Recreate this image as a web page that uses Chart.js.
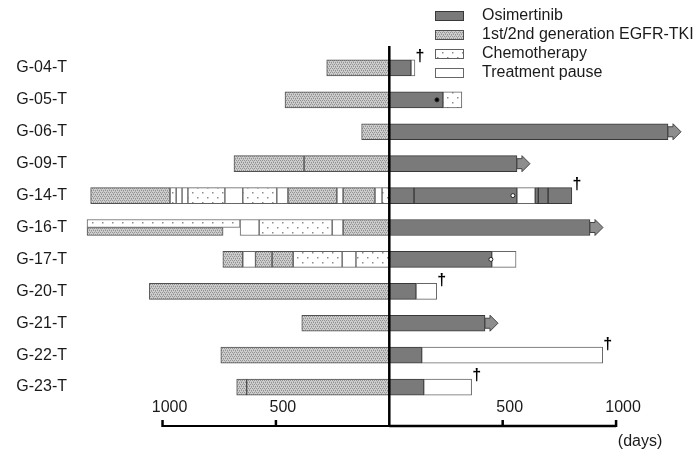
<!DOCTYPE html>
<html>
<head>
<meta charset="utf-8">
<title>Swimmer plot</title>
<script src="https://cdn.jsdelivr.net/npm/chart.js@4.4.1/dist/chart.umd.min.js"></script>
<style>
  html, body { margin: 0; padding: 0; background: #fff; }
  #wrap { width: 697px; height: 453px; }
</style>
</head>
<body>
<div id="wrap"><canvas id="swimmerChart" width="697" height="453"></canvas></div>
<script>
const patients = ["G-04-T", "G-05-T", "G-06-T", "G-09-T", "G-14-T", "G-16-T",
  "G-17-T", "G-20-T", "G-21-T", "G-22-T", "G-23-T"];

// [patient, start day, end day] - negative days are before osimertinib
const osimertinib = [
  ["G-04-T", 0, 96], ["G-05-T", 0, 237], ["G-06-T", 0, 1229], ["G-09-T", 0, 563],
  ["G-14-T", 0, 109], ["G-14-T", 109, 563], ["G-14-T", 643, 657], ["G-14-T", 657, 700],
  ["G-14-T", 700, 805], ["G-16-T", 0, 885], ["G-17-T", 0, 452], ["G-20-T", 0, 118],
  ["G-21-T", 0, 422], ["G-22-T", 0, 143], ["G-23-T", 0, 152]
];
const tki = [
  ["G-04-T", -276, 0], ["G-05-T", -460, 0], ["G-06-T", -122, 0],
  ["G-09-T", -685, -376], ["G-09-T", -376, 0],
  ["G-14-T", -1317, -967], ["G-14-T", -447, -231], ["G-14-T", -204, -63],
  ["G-16-T", -204, 0],
  ["G-17-T", -734, -646], ["G-17-T", -590, -517], ["G-17-T", -517, -424],
  ["G-20-T", -1058, 0], ["G-21-T", -386, 0], ["G-22-T", -743, 0],
  ["G-23-T", -673, -629], ["G-23-T", -629, 0]
];
const chemo = [
  ["G-05-T", 237, 320],
  ["G-14-T", -967, -940], ["G-14-T", -888, -725], ["G-14-T", -646, -496], ["G-14-T", -32, 0],
  ["G-16-T", -574, -252],
  ["G-17-T", -424, -208], ["G-17-T", -147, 0]
];
const pause = [
  ["G-04-T", 96, 113],
  ["G-14-T", -940, -914], ["G-14-T", -914, -888], ["G-14-T", -725, -646], ["G-14-T", -496, -447],
  ["G-14-T", -231, -204], ["G-14-T", -63, -32], ["G-14-T", 563, 643],
  ["G-16-T", -658, -574], ["G-16-T", -252, -204],
  ["G-17-T", -646, -590], ["G-17-T", -208, -147], ["G-17-T", 452, 559],
  ["G-20-T", 118, 209], ["G-22-T", 143, 941], ["G-23-T", 152, 363]
];
// G-16-T: chemo and TKI given together (upper / lower half of the bar)
const comboChemo = [["G-16-T", -1333, -658]];
const comboTki = [["G-16-T", -1333, -733]];

const ongoing = [["G-06-T", 1229], ["G-09-T", 563], ["G-16-T", 885], ["G-21-T", 422]];
const deceased = [["G-04-T", 113], ["G-14-T", 805], ["G-20-T", 209], ["G-22-T", 941], ["G-23-T", 363]];
const events = [["G-05-T", 210, true], ["G-14-T", 545, false], ["G-17-T", 448, false]];

const axisTicks = [-1000, -500, 500, 1000];
const axisTickLabels = ["1000", "500", "500", "1000"];
const legendNames = ["Osimertinib", "1st/2nd generation EGFR-TKI", "Chemotherapy", "Treatment pause"];

const FONT = "'Liberation Sans', Arial, sans-serif";

// fill patterns
function makePattern(w, h, paint) {
  const c = document.createElement("canvas");
  c.width = w; c.height = h;
  const g = c.getContext("2d");
  paint(g);
  return document.getElementById("swimmerChart").getContext("2d").createPattern(c, "repeat");
}
const hatch = makePattern(4, 4, g => {
  g.fillStyle = "#cdcdcd"; g.fillRect(0, 0, 4, 4);
  g.fillStyle = "#939393";
  g.fillRect(0, 0, 1, 1); g.fillRect(2, 0, 1, 1);
  g.fillRect(1, 2, 1, 1); g.fillRect(3, 2, 1, 1);
  g.fillStyle = "#ababab";
  g.fillRect(1, 1, 1, 1); g.fillRect(3, 3, 1, 1);
});
const dots = makePattern(10, 10, g => {
  g.fillStyle = "#ffffff"; g.fillRect(0, 0, 10, 10);
  g.fillStyle = "#8c8c8c";
  g.fillRect(2, 2, 1.5, 1.5);
  g.fillRect(7, 7, 1.5, 1.5);
});

const styles = {
  osim: { backgroundColor: "#7a7a7a", borderColor: "#383838" },
  tki: { backgroundColor: hatch, borderColor: "#505050" },
  chemo: { backgroundColor: dots, borderColor: "#606060" },
  pause: { backgroundColor: "#ffffff", borderColor: "#666" }
};

function toSets(list, style, extra) {
  return list.map(([p, s, e]) => Object.assign({
    data: [{ y: p, x: [s, e] }],
    grouped: false,
    maxBarThickness: 16,
    barThickness: 16,
    borderWidth: 1,
    borderSkipped: false
  }, style, extra));
}

const datasets = [].concat(
  toSets(tki, styles.tki),
  toSets(chemo, styles.chemo),
  toSets(pause, styles.pause),
  toSets(osimertinib, styles.osim),
  toSets(comboChemo, styles.chemo, { grouped: true, stack: "upper", barThickness: 8, maxBarThickness: 8 }),
  toSets(comboTki, styles.tki, { grouped: true, stack: "lower", barThickness: 8, maxBarThickness: 8 })
);

const swimmerExtras = {
  id: "swimmerExtras",
  afterDatasetsDraw(chart) {
    const { ctx, chartArea, scales: { x, y } } = chart;
    const x0 = x.getPixelForValue(0);
    const axisY = chartArea.bottom + 23;
    const rowY = p => y.getPixelForValue(patients.indexOf(p));
    ctx.save();

    // ongoing treatment arrows
    ongoing.forEach(([p, end]) => {
      const px = x.getPixelForValue(end), py = rowY(p);
      ctx.beginPath();
      ctx.moveTo(px, py - 5);
      ctx.lineTo(px + 5, py - 5);
      ctx.lineTo(px + 5, py - 8);
      ctx.lineTo(px + 13, py);
      ctx.lineTo(px + 5, py + 8);
      ctx.lineTo(px + 5, py + 5);
      ctx.lineTo(px, py + 5);
      ctx.closePath();
      ctx.fillStyle = "#8e8e8e";
      ctx.fill();
      ctx.lineWidth = 1;
      ctx.strokeStyle = "#444";
      ctx.stroke();
    });

    // deaths
    ctx.fillStyle = "#000";
    ctx.font = "bold 16px " + FONT;
    ctx.textAlign = "center";
    ctx.textBaseline = "middle";
    deceased.forEach(([p, end]) => {
      ctx.fillText("\u2020", x.getPixelForValue(end) + 5, rowY(p) - 11);
    });

    // small event marks
    events.forEach(([p, day, filled]) => {
      ctx.beginPath();
      ctx.arc(x.getPixelForValue(day), rowY(p), 2, 0, Math.PI * 2);
      ctx.fillStyle = filled ? "#000" : "#fff";
      ctx.fill();
      ctx.lineWidth = 1;
      ctx.strokeStyle = "#222";
      ctx.stroke();
    });

    // centre line (start of osimertinib)
    ctx.strokeStyle = "#000";
    ctx.lineWidth = 2.5;
    ctx.beginPath();
    ctx.moveTo(x0, chartArea.top - 6);
    ctx.lineTo(x0, axisY + 1);
    ctx.stroke();

    // bottom day axis
    ctx.lineWidth = 2;
    ctx.beginPath();
    ctx.moveTo(x.getPixelForValue(-1000), axisY);
    ctx.lineTo(x0, axisY);
    ctx.stroke();
    ctx.lineWidth = 2.5;
    ctx.beginPath();
    ctx.moveTo(x0, axisY);
    ctx.lineTo(x.getPixelForValue(1000), axisY);
    ctx.stroke();

    ctx.font = "16px " + FONT;
    ctx.fillStyle = "#1a1a1a";
    axisTicks.forEach((v, i) => {
      const px = x.getPixelForValue(v);
      ctx.lineWidth = 2.5;
      ctx.beginPath();
      ctx.moveTo(px, axisY + 1);
      ctx.lineTo(px, axisY - 6);
      ctx.stroke();
      ctx.fillText(axisTickLabels[i], px + 7, axisY - 18);
    });
    ctx.fillText("(days)", x.getPixelForValue(1000) + 24, axisY + 16);

    // legend
    const fills = [styles.osim, styles.tki, styles.chemo, styles.pause];
    ctx.textAlign = "left";
    legendNames.forEach((name, i) => {
      const cy = 16 + i * 19;
      ctx.fillStyle = fills[i].backgroundColor;
      ctx.fillRect(435, cy - 4.5, 28, 9);
      ctx.lineWidth = 1;
      ctx.strokeStyle = fills[i].borderColor;
      ctx.strokeRect(435.5, cy - 4.5, 28, 9);
      ctx.fillStyle = "#1a1a1a";
      ctx.fillText(name, 482, cy);
    });
    ctx.restore();
  }
};

new Chart(document.getElementById("swimmerChart"), {
  type: "bar",
  data: { labels: patients, datasets: datasets },
  options: {
    indexAxis: "y",
    responsive: false,
    animation: false,
    layout: { padding: { left: 15, right: 7, top: 52, bottom: 50 } },
    scales: {
      x: {
        type: "linear",
        min: -1386,
        max: 1326,
        display: false
      },
      y: {
        type: "category",
        grid: { display: false, drawTicks: false },
        border: { display: false },
        ticks: {
          padding: 8,
          color: "#1a1a1a",
          font: { family: FONT, size: 16 }
        },
        afterFit(scale) { scale.width = 60; }
      }
    },
    plugins: {
      legend: { display: false },
      tooltip: { enabled: false }
    }
  },
  plugins: [swimmerExtras]
});
</script>
</body>
</html>
